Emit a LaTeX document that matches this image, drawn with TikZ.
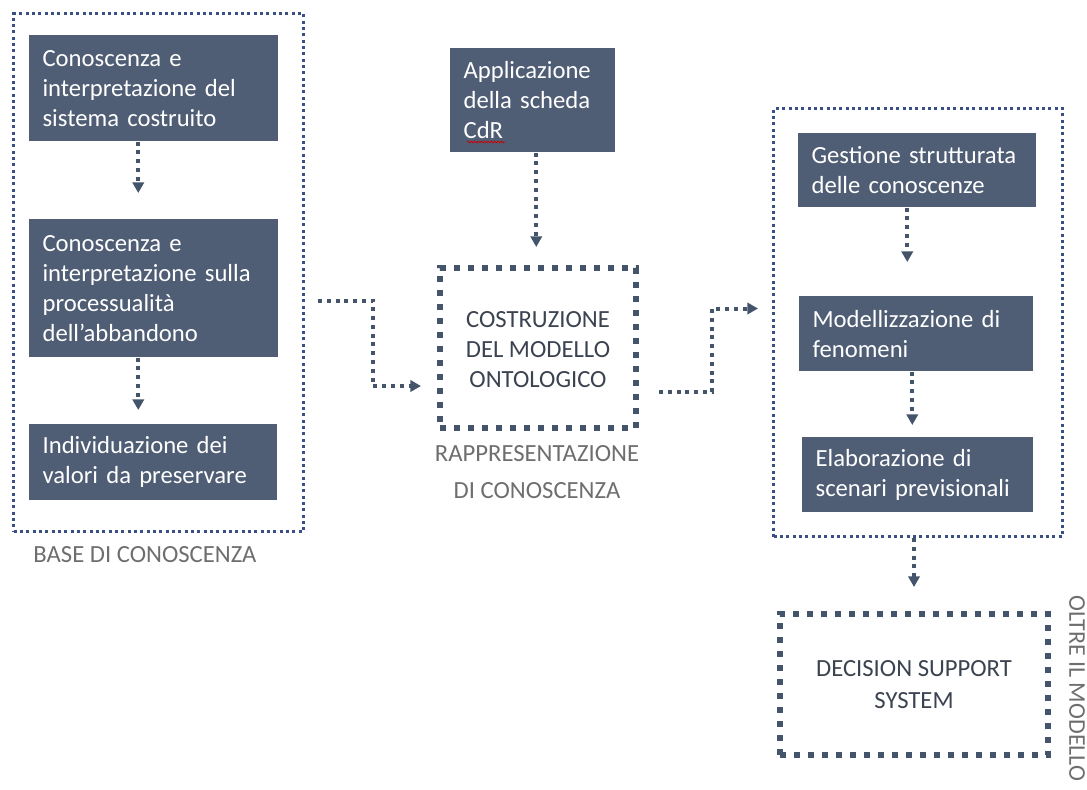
\documentclass[tikz,border=0pt]{standalone}
\usepackage{fontspec}
\setmainfont{Carlito}
\usetikzlibrary{arrows.meta,calc,decorations.pathmorphing}
\definecolor{boxfill}{HTML}{4F5E75}
\definecolor{conncol}{HTML}{44546A}
\definecolor{contcol}{HTML}{3A4F85}
\definecolor{labcol}{HTML}{6E6E6E}
\definecolor{darktext}{HTML}{3B4250}
\begin{document}
\begin{tikzpicture}[x=0.75pt,y=-0.75pt,
  box/.style={fill=boxfill, text=white, align=left, anchor=north west,
    inner xsep=10pt, inner ysep=0pt, font=\fontsize{18.5}{22.5}\selectfont},
  container/.style={draw=contcol, line width=2.25pt, dash pattern=on 2.25pt off 2.5pt,
    anchor=north west, inner sep=0pt},
  thickbox/.style={draw=conncol, line width=4.5pt, dash pattern=on 4.5pt off 6pt,
    anchor=north west, inner sep=0pt, align=center, text=darktext},
  conn/.style={draw=conncol, line width=3pt, dash pattern=on 3pt off 3.6pt,
    -{Triangle[width=8.5pt,length=8pt]}},
  lab/.style={text=labcol, align=center}
]
\useasboundingbox (0,0) rectangle (1087,789);

% containers
\node[container, minimum width=217.5pt, minimum height=388.5pt] (kb) at (12,12) {};
\node[container, minimum width=216.75pt, minimum height=321pt] (rc) at (772,107) {};

% left boxes
\node[box, text width=166.75pt, minimum height=79.5pt] (b1) at (29,35)
  {Conoscenza e\\interpretazione del\\sistema costruito};
\node[box, text width=166.75pt, minimum height=103.5pt] (b2) at (29,219)
  {Conoscenza e\\interpretazione sulla\\processualità\\dell’abbandono};
\node[box, text width=166pt, minimum height=57pt] (b3) at (29,424)
  {Individuazione dei\\valori da preservare};

% middle
\node[box, text width=103.75pt, minimum height=78pt] (app) at (450,48)
  {Applicazione\\della scheda\\CdR};
\draw[red!80!black, line width=0.6pt, decorate,
  decoration={snake, amplitude=0.6pt, segment length=2.5pt}] (467,142) -- (505,142);
\node[thickbox, minimum width=147pt, minimum height=120pt,
  font=\fontsize{18.5}{22.5}\selectfont] (cm) at (437,265)
  {\raisebox{-2.25pt}[\height][\depth]{\begin{tabular}{@{}c@{}}COSTRUZIONE\\DEL MODELLO\\ONTOLOGICO\end{tabular}}};

% right boxes
\node[box, text width=158.5pt, minimum height=55.5pt] (g) at (798,133)
  {Gestione strutturata\\delle conoscenze};
\node[box, text width=155.5pt, minimum height=56.25pt] (m) at (799,296)
  {Modellizzazione di\\fenomeni};
\node[box, text width=153.25pt, minimum height=56.25pt] (e) at (802,437)
  {Elaborazione di\\scenari previsionali};

\node[thickbox, minimum width=201pt, minimum height=105.75pt,
  font=\fontsize{18.5}{24}\selectfont] (dss) at (777,611)
  {DECISION SUPPORT\\SYSTEM};

% labels
\node[lab, font=\fontsize{18.5}{22.5}\selectfont] (lkb) at (145,555) {BASE DI CONOSCENZA};
\node[lab, font=\fontsize{18.5}{27.75}\selectfont] (lcm) at (537,472)
  {RAPPRESENTAZIONE\\DI CONOSCENZA};
\node[lab, font=\fontsize{18}{22}\selectfont, rotate=-90, anchor=west, inner sep=0pt] (lol)
  at (1077,595) {OLTRE IL MODELLO};

% connector anchor points
\coordinate (s1) at ($(b1.south)+(-15.5,0)$);
\coordinate (s2) at ($(b2.south)+(-15.5,0)$);
\coordinate (s3) at ($(app.south)+(3.5,0)$);
\coordinate (s4) at ($(g.south)+(-10,0)$);
\coordinate (s5) at ($(m.south)+(-4,0)$);
\coordinate (s6) at ($(rc.south)+(-4,0)$);
\coordinate (s7) at ($(kb.east)+(13,28)$);
\coordinate (t7) at ($(cm.west)+(0,38)$);
\coordinate (s8) at ($(cm.east)+(20,44)$);
\coordinate (t8) at ($(rc.west)+(0,-14)$);

% connectors
\draw[conn, shorten >=19.5pt] (s1) -- (s1 |- b2.north);
\draw[conn, shorten >=10.5pt] (s2) -- (s2 |- b3.north);
\draw[conn, shorten >=13.5pt] (s3) -- (s3 |- cm.north);
\draw[conn, shorten >=25.5pt] (s4) -- (s4 |- m.north);
\draw[conn, shorten >=9pt] (s5) -- (s5 |- e.north);
\draw[conn, shorten >=18pt] (s6) -- (s6 |- dss.north);
\draw[conn, shorten >=12pt] (s7) -- ++(55,0) |- (t7);
\draw[conn, shorten >=10.5pt] (s8) -- ++(53,0) |- (t8);
\end{tikzpicture}
\end{document}
